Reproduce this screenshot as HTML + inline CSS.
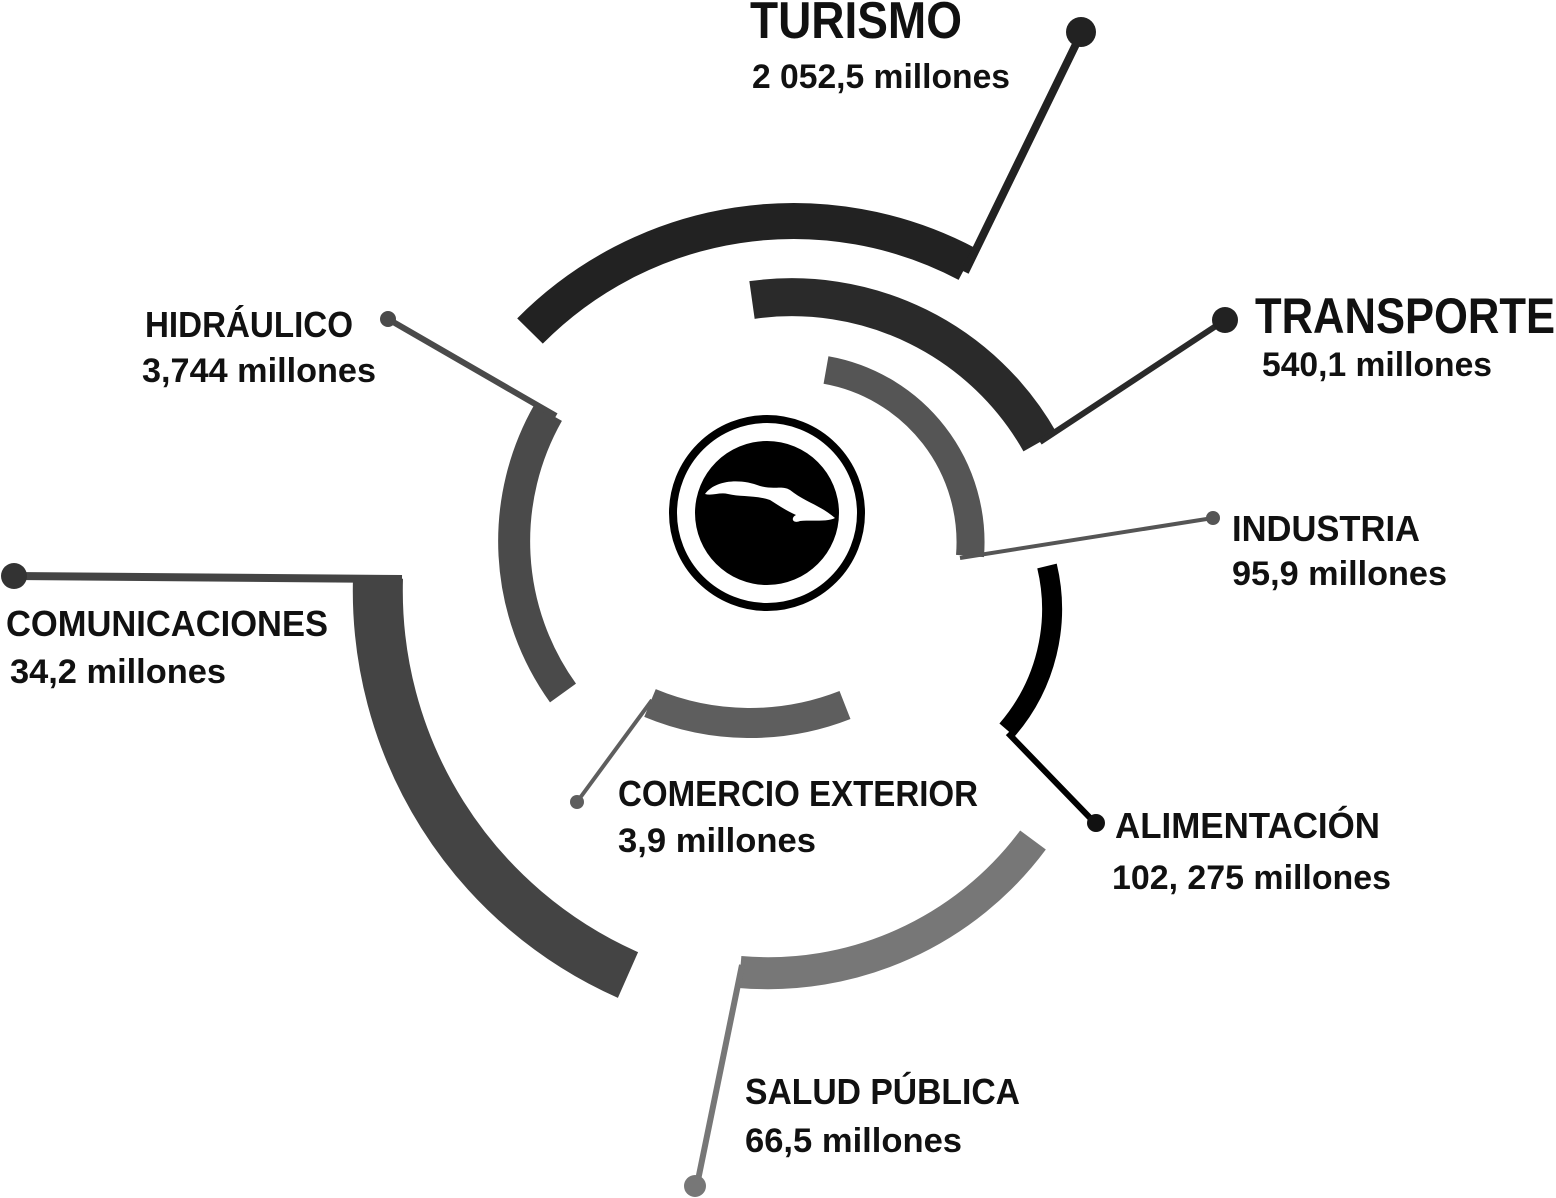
<!DOCTYPE html>
<html><head><meta charset="utf-8"><style>
html,body{margin:0;padding:0;background:#fff}
svg{display:block}
text{font-family:"Liberation Sans",sans-serif;font-weight:bold;fill:#111}
</style></head><body>
<svg width="1556" height="1198" viewBox="0 0 1556 1198" xmlns="http://www.w3.org/2000/svg">
<g fill="none">
<path d="M 530 331 A 371 371 0 0 1 967 264" stroke="#222" stroke-width="36"/>
<path d="M 752 300 A 285 285 0 0 1 1040 442" stroke="#2a2a2a" stroke-width="38"/>
<path d="M 826 370 A 175 175 0 0 1 970 556" stroke="#555" stroke-width="28"/>
<path d="M 1047 566 A 185 185 0 0 1 1007 730" stroke="#000" stroke-width="20"/>
<path d="M 1033 840 A 330 330 0 0 1 740 972" stroke="#777" stroke-width="32"/>
<path d="M 378 578 A 420 420 0 0 0 628 975" stroke="#444" stroke-width="50"/>
<path d="M 548 413 A 260 260 0 0 0 563 693" stroke="#4a4a4a" stroke-width="32"/>
<path d="M 650 703 A 260 260 0 0 0 845 705" stroke="#5e5e5e" stroke-width="30"/>
</g>
<g stroke-linecap="butt">
<line x1="965" y1="272" x2="1080" y2="36" stroke="#222" stroke-width="8"/>
<line x1="1040" y1="442" x2="1225" y2="320" stroke="#2a2a2a" stroke-width="6"/>
<line x1="960" y1="558" x2="1213" y2="518" stroke="#555" stroke-width="4"/>
<line x1="1008" y1="733" x2="1095" y2="823" stroke="#000" stroke-width="6"/>
<line x1="742" y1="965" x2="697" y2="1185" stroke="#777" stroke-width="6"/>
<line x1="14" y1="576" x2="402" y2="579" stroke="#444" stroke-width="8"/>
<line x1="388" y1="319" x2="556" y2="416" stroke="#4a4a4a" stroke-width="6"/>
<line x1="652" y1="700" x2="577" y2="802" stroke="#5e5e5e" stroke-width="4"/>
</g>
<circle cx="1081" cy="32" r="15" fill="#222"/>
<circle cx="1225" cy="320" r="13" fill="#222"/>
<circle cx="1213" cy="518" r="7" fill="#555"/>
<circle cx="1096" cy="823" r="9" fill="#111"/>
<circle cx="695" cy="1186" r="11" fill="#777"/>
<circle cx="14" cy="576" r="13" fill="#333"/>
<circle cx="388" cy="319" r="8" fill="#4a4a4a"/>
<circle cx="577" cy="802" r="7" fill="#5e5e5e"/>
<circle cx="767" cy="513" r="94" fill="none" stroke="#000" stroke-width="8"/>
<circle cx="767" cy="513" r="72" fill="#000"/>
<path d="M 705 494 C 715 480 740 478 760 486 C 775 490 782 485 790 490 C 805 502 820 505 835 518 C 828 522 812 520 800 521 C 793 524 790 518 796 515 C 785 510 778 505 770 500 C 755 495 740 497 728 494 C 720 492 712 496 705 494 Z" fill="#fff"/>
<g lengthAdjust="spacingAndGlyphs">
<text x="750" y="38" font-size="52" textLength="212" lengthAdjust="spacingAndGlyphs">TURISMO</text>
<text x="752" y="88" font-size="34" textLength="258" lengthAdjust="spacingAndGlyphs">2 052,5 millones</text>
<text x="1255" y="333" font-size="50" textLength="300" lengthAdjust="spacingAndGlyphs">TRANSPORTE</text>
<text x="1262" y="376" font-size="34" textLength="230" lengthAdjust="spacingAndGlyphs">540,1 millones</text>
<text x="1232" y="541" font-size="36" textLength="188" lengthAdjust="spacingAndGlyphs">INDUSTRIA</text>
<text x="1232" y="585" font-size="34" textLength="215" lengthAdjust="spacingAndGlyphs">95,9 millones</text>
<text x="1115" y="838" font-size="36" textLength="265" lengthAdjust="spacingAndGlyphs">ALIMENTACIÓN</text>
<text x="1112" y="889" font-size="34" textLength="279" lengthAdjust="spacingAndGlyphs">102, 275 millones</text>
<text x="745" y="1104" font-size="36" textLength="275" lengthAdjust="spacingAndGlyphs">SALUD PÚBLICA</text>
<text x="745" y="1152" font-size="34" textLength="217" lengthAdjust="spacingAndGlyphs">66,5 millones</text>
<text x="618" y="806" font-size="36" textLength="360" lengthAdjust="spacingAndGlyphs">COMERCIO EXTERIOR</text>
<text x="618" y="852" font-size="34" textLength="198" lengthAdjust="spacingAndGlyphs">3,9 millones</text>
<text x="6" y="636" font-size="36" textLength="322" lengthAdjust="spacingAndGlyphs">COMUNICACIONES</text>
<text x="10" y="683" font-size="34" textLength="216" lengthAdjust="spacingAndGlyphs">34,2 millones</text>
<text x="145" y="337" font-size="36" textLength="208" lengthAdjust="spacingAndGlyphs">HIDRÁULICO</text>
<text x="142" y="382" font-size="34" textLength="234" lengthAdjust="spacingAndGlyphs">3,744 millones</text>
</g>
</svg>
</body></html>
